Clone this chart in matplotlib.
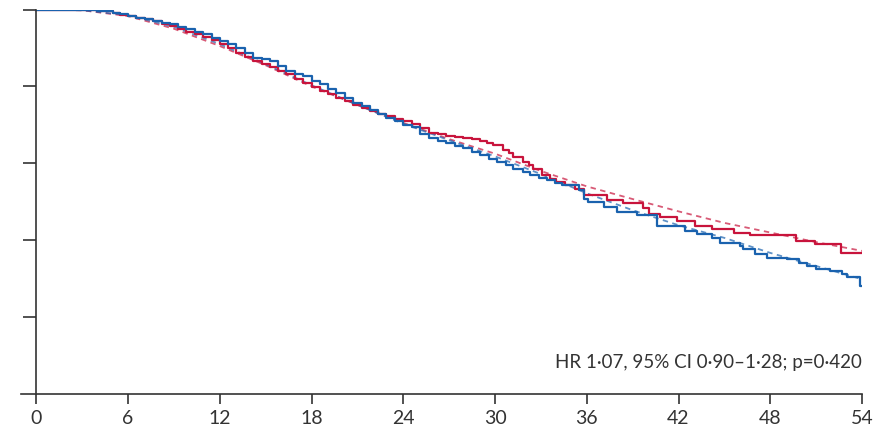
import matplotlib
matplotlib.use("Agg")
import matplotlib.pyplot as plt

# Kaplan-Meier step data (months, survival proportion)
red_t = [0, 2.0, 3.0, 4.0, 5.0, 5.46, 6.01, 6.55, 7.10, 7.64, 8.19, 8.73, 9.28, 9.82, 10.37,
         10.91, 11.46, 12.00, 12.55, 13.09, 13.64, 14.18, 14.73, 15.27, 15.82, 16.36,
         16.91, 17.45, 18.00, 18.54, 19.09, 19.63, 20.18, 20.72, 21.27, 21.81, 22.36,
         22.90, 23.45, 23.99, 24.54, 25.1, 25.7, 26.3, 26.8, 27.4, 27.9, 28.5, 29.0, 29.5,
         29.9, 30.5, 30.9, 31.2, 31.8, 32.2, 32.5, 33.1, 33.6, 34.0, 34.6, 35.2, 35.8,
         37.3, 38.4, 39.7, 40.1, 40.8, 41.9, 43.1, 44.2, 45.6, 46.7, 49.7, 50.9, 52.6, 54.3]
red_s = [1.0, 0.999, 0.998, 0.995, 0.990, 0.986, 0.983, 0.979, 0.974, 0.969, 0.963, 0.957,
         0.950, 0.942, 0.935, 0.928, 0.921, 0.911, 0.901, 0.887, 0.876, 0.866, 0.857, 0.850,
         0.841, 0.831, 0.820, 0.809, 0.798, 0.789, 0.780, 0.771, 0.761, 0.752, 0.743, 0.735,
         0.728, 0.722, 0.715, 0.709, 0.702, 0.691, 0.678, 0.675, 0.672, 0.668, 0.665, 0.662,
         0.658, 0.654, 0.648, 0.634, 0.626, 0.617, 0.604, 0.596, 0.586, 0.569, 0.560, 0.552,
         0.543, 0.534, 0.517, 0.504, 0.496, 0.483, 0.469, 0.460, 0.451, 0.438, 0.428, 0.420,
         0.414, 0.399, 0.390, 0.368, 0.368]

blue_t = [0, 2.0, 3.0, 4.0, 5.0, 5.46, 6.01, 6.55, 7.10, 7.64, 8.19, 8.73, 9.28, 9.82, 10.37,
          10.91, 11.46, 12.00, 12.55, 13.09, 13.64, 14.18, 14.73, 15.27, 15.82, 16.36,
          16.91, 17.45, 18.00, 18.54, 19.09, 19.63, 20.18, 20.72, 21.27, 21.81, 22.36,
          22.90, 23.45, 23.99, 24.54, 25.1, 25.7, 26.3, 26.8, 27.4, 27.9, 28.5, 29.0, 29.6,
          30.1, 30.7, 31.2, 31.8, 32.3, 32.9, 33.4, 33.9, 34.4, 35.5, 35.8, 36.1, 37.1,
          38.0, 39.3, 40.6, 42.4, 43.2, 44.2, 44.7, 46.0, 46.2, 47.0, 47.8, 49.1, 49.9,
          50.4, 51.0, 51.9, 52.7, 53.0, 53.9, 54.4]
blue_s = [1.0, 0.999, 0.998, 0.996, 0.991, 0.988, 0.983, 0.979, 0.975, 0.970, 0.966, 0.962,
          0.955, 0.949, 0.942, 0.935, 0.927, 0.918, 0.909, 0.901, 0.887, 0.874, 0.870, 0.866,
          0.853, 0.839, 0.833, 0.826, 0.815, 0.805, 0.794, 0.783, 0.770, 0.757, 0.748, 0.739,
          0.728, 0.717, 0.709, 0.700, 0.694, 0.676, 0.665, 0.659, 0.652, 0.646, 0.639, 0.630,
          0.621, 0.612, 0.604, 0.595, 0.586, 0.577, 0.569, 0.562, 0.556, 0.549, 0.543, 0.530,
          0.508, 0.499, 0.486, 0.473, 0.465, 0.438, 0.425, 0.416, 0.405, 0.394, 0.386, 0.377,
          0.364, 0.355, 0.351, 0.342, 0.333, 0.325, 0.320, 0.312, 0.303, 0.281, 0.281]

# Fitted (dashed) curves
fit_t = [0, 3, 6, 9, 12, 15, 18, 21, 24, 27, 30, 33, 36, 39, 42, 45, 48, 51, 54.3]
red_fit = [1.0, 0.998, 0.983, 0.950, 0.905, 0.855, 0.800, 0.752, 0.705, 0.663, 0.625,
           0.580, 0.540, 0.507, 0.475, 0.445, 0.420, 0.395, 0.370]
blue_fit = [1.0, 0.998, 0.985, 0.955, 0.910, 0.858, 0.803, 0.752, 0.703, 0.660, 0.618,
            0.572, 0.522, 0.478, 0.439, 0.406, 0.367, 0.333, 0.295]

x_ticks = [0, 6, 12, 18, 24, 30, 36, 42, 48, 54]
y_ticks = [0.2, 0.4, 0.6, 0.8, 1.0]
annotation = "HR 1·07, 95% CI 0·90–1·28; p=0·420"

RED = "#c8143c"
BLUE = "#1a62ae"
AX = "#333333"

plt.rcParams['font.family'] = ['Lato', 'DejaVu Sans']

fig = plt.figure(figsize=(8.79, 4.35), dpi=100)
ax = fig.add_axes([21/879, 40/435, 841/879, 384.5/435])

ax.plot(fit_t, red_fit, color=RED, lw=1.3, ls=(0, (3, 2.5)), alpha=0.7)
ax.plot(fit_t, blue_fit, color=BLUE, lw=1.3, ls=(0, (3, 2.5)), alpha=0.7)
ax.plot(red_t, red_s, color=RED, lw=1.6, drawstyle='steps-post')
ax.plot(blue_t, blue_s, color=BLUE, lw=1.6, drawstyle='steps-post')

ax.set_xlim(-1, 54)
ax.set_ylim(0, 1.0)
ax.spines['top'].set_visible(False)
ax.spines['right'].set_visible(False)
ax.spines['left'].set_position(('data', 0))
for s in ('left', 'bottom'):
    ax.spines[s].set_color(AX)
    ax.spines[s].set_linewidth(1.2)
ax.spines['left'].set_bounds(0, 1.0)

ax.set_xticks(x_ticks)
ax.set_xticklabels([str(v) for v in x_ticks])
ax.set_yticks(y_ticks)
ax.set_yticklabels([])
ax.tick_params(axis='x', direction='out', length=7.5, width=1.2, color=AX,
               labelsize=14, labelcolor='#333333', pad=3)
ax.tick_params(axis='y', direction='out', length=9.5, width=1.2, color=AX)

ax.text(54, 0.085, annotation, ha='right', va='center', fontsize=13.5, color='#333333')

fig.savefig("out.png", dpi=100)
